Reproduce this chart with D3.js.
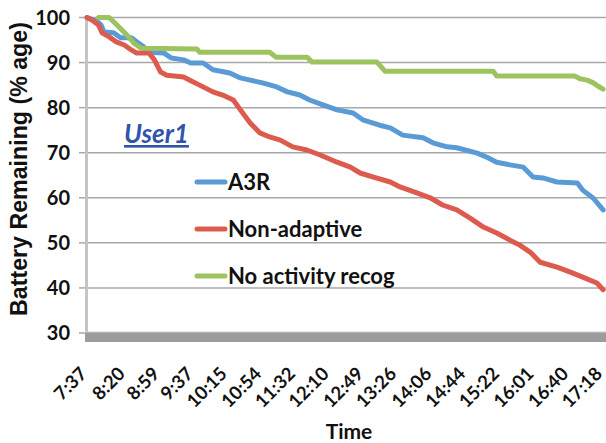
<!DOCTYPE html>
<html>
<head>
<meta charset="utf-8">
<script src="https://cdn.jsdelivr.net/npm/d3@7"></script>
<style>
  html, body { margin: 0; padding: 0; background: #ffffff; }
  svg { display: block; }
</style>
</head>
<body>
<svg id="chart" width="606" height="443"></svg>
<script>
// ---------------- data ----------------
const seriesNames = ["A3R", "Non-adaptive", "No activity recog"];
const seriesColors = ["#5b9bd5", "#dc5b4e", "#9dc35f"];

const xTickLabels = ["7:37", "8:20", "8:59", "9:37", "10:15", "10:54", "11:32", "12:10",
                     "12:49", "13:26", "14:06", "14:44", "15:22", "16:01", "16:40", "17:18"];
const yTickValues = [30, 40, 50, 60, 70, 80, 90, 100];

const a3rTimes = ["7:37","7:48","7:53","7:56","8:07","8:15","8:27","8:33","8:41","8:45","9:04","9:12",
  "9:26","9:34","9:48","9:59","10:18","10:30","10:41","10:55","11:11","11:23","11:37","11:48","12:03",
  "12:19","12:37","12:48","13:07","13:19","13:33","13:56","14:07","14:23","14:34","14:57","15:08",
  "15:19","15:34","15:49","16:00","16:11","16:27","16:50","16:56","17:08","17:19"];
const a3rValues = [100,99.2,98.3,96.8,96.6,95.5,95.5,94.6,93.5,92.3,92.1,91.0,
  90.6,89.9,89.9,88.4,87.7,86.6,86.1,85.5,84.6,83.5,82.8,81.7,80.6,
  79.5,78.8,77.3,76.1,75.5,73.9,73.3,72.2,71.3,71.1,69.9,69.0,
  67.9,67.3,66.8,64.6,64.4,63.5,63.3,61.7,59.9,57.3];

const nonAdaptiveTimes = ["7:37","7:43","7:50","7:54","8:02","8:10","8:19","8:27","8:33","8:47","8:53",
  "9:00","9:07","9:26","9:33","9:44","9:59","10:10","10:22","10:30","10:41","10:52","11:03","11:15",
  "11:29","11:45","12:00","12:19","12:34","12:45","13:00","13:19","13:30","13:49","14:04","14:18",
  "14:34","14:49","15:04","15:19","15:34","15:45","15:57","16:08","16:27","16:42","16:56","17:12","17:19"];
const nonAdaptiveValues = [100,99.4,98.3,96.6,95.7,94.6,93.9,92.8,92.1,92.1,90.6,
  87.9,87.2,86.8,86.1,85.0,83.5,82.8,81.7,79.5,76.6,74.4,73.5,72.8,
  71.3,70.6,69.5,67.9,66.8,65.5,64.6,63.5,62.4,61.1,60.0,58.4,
  57.3,55.5,53.5,52.2,50.6,49.5,47.9,45.7,44.6,43.5,42.4,41.1,39.6];

const noActivityTimes = ["7:50","8:02","8:11","8:22","8:30","8:38","9:41","9:44","11:03","11:10","11:45",
  "11:51","13:04","13:13","15:15","15:19","16:47","16:53","17:01","17:08","17:13","17:19"];
const noActivityValues = [100,100,98.3,96.1,94.3,93.2,93.0,92.3,92.3,91.2,91.2,
  90.1,90.1,88.1,88.1,87.0,87.0,86.4,86.1,85.5,84.8,84.1];

// ---------------- chart ----------------
const parse = d3.timeParse("%H:%M");
const series = [
  { name: seriesNames[0], color: seriesColors[0], times: a3rTimes, values: a3rValues },
  { name: seriesNames[1], color: seriesColors[1], times: nonAdaptiveTimes, values: nonAdaptiveValues },
  { name: seriesNames[2], color: seriesColors[2], times: noActivityTimes, values: noActivityValues }
].map(s => ({ ...s, points: s.times.map((t, i) => ({ t: parse(t), v: s.values[i] })) }));

const svg = d3.select("#chart");
const plotLeft = 87, plotRight = 604, gridRight = 606;

const x = d3.scaleTime().domain([parse("7:37"), parse("17:20")]).range([plotLeft, plotRight]);
const y = d3.scaleLinear().domain([30, 100]).range([333, 17.5]);

// gridlines + left ticks
const g = svg.append("g");
yTickValues.filter(v => v > 30).forEach(v => {
  g.append("line").attr("x1", plotLeft).attr("x2", gridRight)
    .attr("y1", y(v)).attr("y2", y(v))
    .attr("stroke", "#a8a8a8").attr("stroke-width", 1.5);
});
yTickValues.forEach(v => {
  g.append("line").attr("x1", 79).attr("x2", plotLeft)
    .attr("y1", y(v)).attr("y2", y(v))
    .attr("stroke", "#a8a8a8").attr("stroke-width", 1.5);
});

// left axis wall
g.append("line").attr("x1", plotLeft - 0.5).attr("x2", plotLeft - 0.5)
  .attr("y1", y(100)).attr("y2", y(30))
  .attr("stroke", "#c4c4c4").attr("stroke-width", 3);

// floor
g.append("rect").attr("x", plotLeft - 2).attr("y", y(30) - 1)
  .attr("width", gridRight - plotLeft + 2).attr("height", 10)
  .attr("fill", "#9c9c9c");
g.append("line").attr("x1", plotLeft - 2).attr("x2", gridRight)
  .attr("y1", y(30) - 1).attr("y2", y(30) - 1)
  .attr("stroke", "#cfcfcf").attr("stroke-width", 1);

// y tick labels
svg.append("g").selectAll("text").data(yTickValues).join("text")
  .attr("x", 70).attr("y", d => y(d)).attr("dy", "0.36em")
  .attr("text-anchor", "end")
  .attr("font-family", "Lato, 'Liberation Sans', sans-serif")
  .attr("font-weight", "bold").attr("font-size", 20).attr("fill", "#111")
  .text(d => d);

// x tick labels (rotated)
svg.append("g").selectAll("text").data(xTickLabels).join("text")
  .attr("transform", d => `translate(${x(parse(d)) + 1},${375}) rotate(-45)`)
  .attr("text-anchor", "end")
  .attr("font-family", "Lato, 'Liberation Sans', sans-serif")
  .attr("font-weight", "bold").attr("font-size", 18.5).attr("fill", "#111")
  .text(d => d);

// lines
const line = d3.line().x(d => x(d.t)).y(d => y(d.v)).curve(d3.curveLinear);
svg.append("g").selectAll("path").data(series).join("path")
  .attr("d", d => line(d.points))
  .attr("fill", "none").attr("stroke", d => d.color)
  .attr("stroke-width", 5).attr("stroke-linejoin", "round").attr("stroke-linecap", "round");

// legend
const legendRows = [182, 229, 276];
const lg = svg.append("g");
series.forEach((s, i) => {
  lg.append("line").attr("x1", 197).attr("x2", 225)
    .attr("y1", legendRows[i]).attr("y2", legendRows[i])
    .attr("stroke", s.color).attr("stroke-width", 5).attr("stroke-linecap", "round");
  lg.append("text").attr("x", 228).attr("y", legendRows[i] + 8)
    .attr("font-family", "Lato, 'Liberation Sans', sans-serif")
    .attr("font-weight", "bold").attr("font-size", 22).attr("fill", "#111")
    .text(s.name);
});

// "User1" annotation
svg.append("text").attr("x", 124).attr("y", 143)
  .attr("font-family", "Lato, 'Liberation Sans', sans-serif")
  .attr("font-weight", "bold").attr("font-style", "italic").attr("font-size", 26)
  .attr("fill", "#3153ab").attr("text-decoration", "underline")
  .text("User1");

// axis titles
svg.append("text")
  .attr("transform", `translate(27,169) rotate(-90)`)
  .attr("text-anchor", "middle")
  .attr("font-family", "'Liberation Sans', Arial, sans-serif")
  .attr("font-weight", "bold").attr("font-size", 23.2).attr("fill", "#111")
  .text("Battery Remaining  (% age)");

svg.append("text").attr("x", 349).attr("y", 439)
  .attr("text-anchor", "middle")
  .attr("font-family", "Lato, 'Liberation Sans', sans-serif")
  .attr("font-weight", "bold").attr("font-size", 21).attr("fill", "#111")
  .text("Time");
</script>
</body>
</html>
